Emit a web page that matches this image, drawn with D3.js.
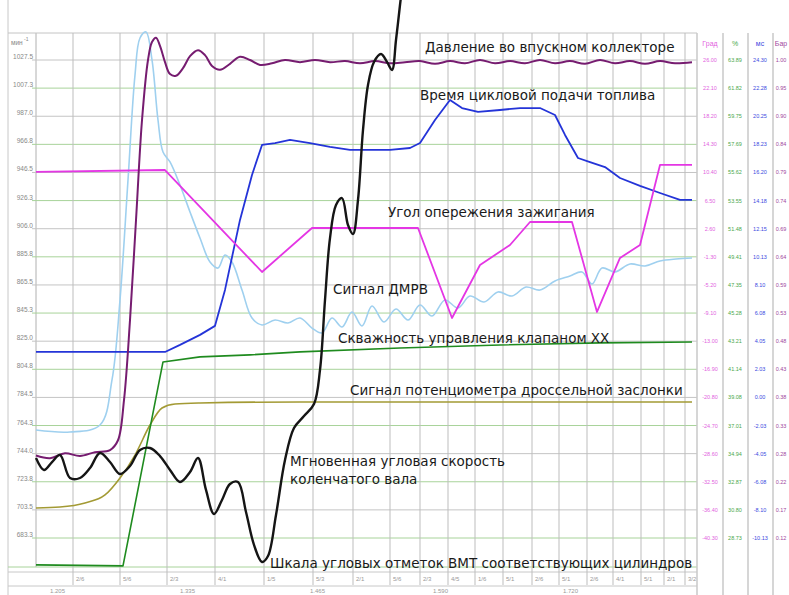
<!DOCTYPE html>
<html>
<head>
<meta charset="utf-8">
<script src="https://cdn.jsdelivr.net/npm/d3@7"></script>
<style>
body { margin: 0; background: #fff; }
</style>
</head>
<body>
<div id="chart"></div>
<script>

// Axis labels (left: мин-1, right: Град, %, мс, Бар)
var rpmTicks = [1027.5, 1007.3, 987.0, 966.8, 946.5, 926.3, 906.0, 885.8, 865.5, 845.3, 825.0, 804.8, 784.5, 764.3, 744.0, 723.8, 703.5, 683.3];
var gradTicks = [26.00, 22.10, 18.20, 14.30, 10.40, 6.50, 2.60, -1.30, -5.20, -9.10, -13.00, -16.90, -20.80, -24.70, -28.60, -32.50, -36.40, -40.30];
var pctTicks = [63.89, 61.82, 59.75, 57.69, 55.62, 53.55, 51.48, 49.41, 47.35, 45.28, 43.21, 41.14, 39.08, 37.01, 34.94, 32.87, 30.80, 28.73];
var msTicks = [24.30, 22.28, 20.25, 18.23, 16.20, 14.18, 12.15, 10.13, 8.10, 6.08, 4.05, 2.03, 0.00, -2.03, -4.05, -6.08, -8.10, -10.13];
var barTicks = [1.00, 0.95, 0.90, 0.84, 0.79, 0.74, 0.69, 0.64, 0.59, 0.53, 0.48, 0.43, 0.38, 0.33, 0.28, 0.22, 0.17, 0.12];

// TDC marks (time, ms) and their cylinder labels
var tdcTimes = [74, 168, 262, 358, 456, 554, 634, 708, 768, 824, 878, 934, 992, 1046, 1102, 1154, 1210, 1256, 1298];
var tdcLabels = ["2/6", "5/6", "2/3", "4/1", "1/5", "5/3", "2/1", "5/6", "2/3", "4/5", "1/6", "5/1", "2/6", "5/1", "2/6", "4/1", "5/1", "2/1", "3/2"];
var timeLabelTimes = [28, 288, 548, 794, 1054];
var timeLabels = ["1.205", "1.335", "1.465", "1.590", "1.720"];

// Series: [time ms, value]
var pressure = [ // Бар
	[0, 0.272], [28, 0.267], [58, 0.276], [88, 0.271], [118, 0.278], [148, 0.282], [164, 0.300],
	[176, 0.374], [188, 0.521], [200, 0.705], [212, 0.889], [224, 1.000], [232, 1.033], [240, 1.041],
	[248, 1.026], [258, 0.996], [268, 0.974], [280, 0.971], [294, 0.985], [308, 1.007], [324, 1.018],
	[338, 1.009], [352, 0.989], [368, 0.982], [388, 0.993], [408, 1.006], [428, 1.000], [448, 0.991],
	[472, 0.994], [498, 1.000], [528, 0.996], [558, 1.000], [588, 0.996], [618, 0.998], [648, 0.994],
	[678, 0.998], [708, 0.994], [738, 0.996], [768, 0.998], [798, 0.993], [828, 0.998], [858, 0.994],
	[888, 1.000], [918, 0.994], [948, 0.998], [978, 0.994], [1008, 1.000], [1038, 0.994], [1068, 0.998],
	[1098, 0.993], [1128, 1.000], [1158, 0.994], [1188, 0.998], [1218, 0.993], [1248, 0.998], [1278, 0.994], [1312, 0.996]
];
var injection = [ // мс
	[0, 3.27], [258, 3.27], [288, 3.78], [328, 4.50], [358, 5.15], [378, 7.74], [408, 12.78], [432, 16.02],
	[452, 18.18], [478, 18.32], [508, 18.54], [548, 18.32], [588, 18.04], [628, 17.82], [668, 17.82],
	[708, 17.82], [748, 17.96], [768, 18.32], [798, 19.98], [828, 21.42], [852, 20.84], [884, 20.56],
	[928, 20.70], [968, 20.84], [1008, 20.84], [1038, 20.34], [1058, 18.90], [1084, 17.24], [1108, 16.95],
	[1138, 16.59], [1168, 15.80], [1208, 15.23], [1248, 14.72], [1288, 14.22], [1312, 14.22]
];
var ignition = [ // Град
	[0, 10.47], [258, 10.74], [452, -3.40], [552, 2.70], [764, 2.70], [832, -9.78], [888, -2.43],
	[948, 0.34], [988, 3.53], [1072, 3.53], [1122, -8.95], [1168, -1.46], [1208, 0.34], [1248, 11.44], [1312, 11.44]
];
var idleValve = [ // %
	[0, 26.75], [174, 26.68], [254, 41.68], [328, 42.05], [428, 42.20], [528, 42.42], [728, 42.71],
	[928, 42.93], [1128, 43.08], [1312, 43.15]
];
var throttle = [ // В
	[0, 0.543], [48, 0.552], [98, 0.590], [138, 0.665], [168, 0.824], [198, 1.039], [228, 1.320],
	[252, 1.479], [278, 1.517], [328, 1.526], [528, 1.536], [1312, 1.536]
];
var maf = [ // В
	[0, 1.273], [68, 1.255], [128, 1.320], [152, 1.742], [168, 2.491], [184, 3.614], [198, 4.597],
	[208, 4.944], [220, 5.000], [232, 4.738], [244, 4.176], [254, 3.876], [268, 3.783], [288, 3.567],
	[308, 3.315], [328, 3.071], [348, 2.846], [364, 2.790], [378, 2.912], [392, 2.846], [412, 2.584],
	[432, 2.322], [452, 2.257], [478, 2.303], [504, 2.275], [528, 2.322], [552, 2.228], [572, 2.182],
	[592, 2.322], [612, 2.238], [632, 2.378], [652, 2.247], [672, 2.434], [696, 2.285], [720, 2.406],
	[744, 2.303], [768, 2.444], [792, 2.341], [818, 2.491], [844, 2.416], [868, 2.528], [896, 2.472],
	[924, 2.566], [952, 2.528], [980, 2.612], [1008, 2.584], [1038, 2.669], [1068, 2.715], [1092, 2.753],
	[1112, 2.640], [1132, 2.790], [1158, 2.753], [1188, 2.828], [1218, 2.809], [1248, 2.856], [1280, 2.875], [1312, 2.884]
];
var crankSpeed = [ // мин-1
	[0, 740.9], [16, 732.3], [32, 738.0], [48, 743.1], [68, 726.5], [88, 726.5], [108, 733.7], [128, 744.5],
	[148, 738.0], [168, 729.4], [188, 735.1], [208, 746.7], [228, 748.1], [248, 742.3], [268, 732.3],
	[288, 723.6], [308, 730.8], [324, 740.9], [340, 717.9], [356, 700.6], [372, 710.7], [388, 722.2],
	[404, 723.6], [420, 702.0], [436, 678.3], [452, 666.0], [464, 670.3], [480, 699.9], [498, 739.5],
	[516, 762.5], [536, 771.1], [556, 779.8], [568, 804.3], [578, 854.7], [588, 899.3], [600, 923.1],
	[612, 928.1], [624, 908.7], [634, 902.2], [644, 926.7], [654, 977.1], [664, 1009.5], [676, 1026.1],
	[690, 1031.8], [702, 1026.1], [712, 1020.3], [720, 1041.9], [728, 1067.1], [734, 1085.1]
];

var W = 789, H = 595;
var plotLeft = 36, plotRight = 697, plotTop = 33, plotBottom = 567;
var row0 = 60, row17 = 538;

var svg = d3.select("#chart").append("svg")
	.attr("width", W)
	.attr("height", H)
	.style("font-family", "'Liberation Sans', Arial, sans-serif");

var x = d3.scaleLinear().domain([0, 1322]).range([plotLeft, plotRight]);
var rowY = d3.scaleLinear().domain([0, 17]).range([row0, row17]);
var yRpm = d3.scaleLinear().domain([rpmTicks[0], rpmTicks[17]]).range([row0, row17]);
var yGrad = d3.scaleLinear().domain([gradTicks[0], gradTicks[17]]).range([row0, row17]);
var yPct = d3.scaleLinear().domain([pctTicks[0], pctTicks[17]]).range([row0, row17]);
var yMs = d3.scaleLinear().domain([msTicks[0], msTicks[17]]).range([row0, row17]);
var yBar = d3.scaleLinear().domain([barTicks[0], barTicks[17]]).range([row0, row17]);
var yVolt = d3.scaleLinear().domain([0, 5]).range([plotBottom - 1, plotTop - 1]);

var rows = d3.range(18);

// Frame
svg.append("line").attr("x1", 8).attr("x2", 8).attr("y1", 0).attr("y2", H).style("stroke", "#c8c8c8");
svg.append("line").attr("x1", plotLeft).attr("x2", plotLeft).attr("y1", plotTop).attr("y2", plotBottom).style("stroke", "#b0b0b0");

// Horizontal grid
svg.selectAll(".hgrid")
	.data(rows)
	.enter()
	.append("line")
	.attr("class", "hgrid")
	.attr("x1", plotLeft - 4)
	.attr("x2", plotRight)
	.attr("y1", d => rowY(d))
	.attr("y2", d => rowY(d))
	.style("stroke", d => d % 2 == 0 ? "#c4c4c4" : "#a8d39a")
	.style("stroke-width", 1);

svg.append("line").attr("x1", 8).attr("x2", plotRight).attr("y1", plotTop).attr("y2", plotTop).style("stroke", "#c4c4c4");
svg.append("line").attr("x1", 8).attr("x2", plotRight).attr("y1", plotBottom).attr("y2", plotBottom).style("stroke", "#a8d39a");
svg.append("line").attr("x1", 8).attr("x2", plotRight).attr("y1", 572).attr("y2", 572).style("stroke", "#c8c8c8");
svg.append("line").attr("x1", 8).attr("x2", plotRight).attr("y1", 586).attr("y2", 586).style("stroke", "#c8c8c8");

// TDC marks (vertical grid)
svg.selectAll(".tdc")
	.data(tdcTimes)
	.enter()
	.append("line")
	.attr("class", "tdc")
	.attr("x1", d => x(d))
	.attr("x2", d => x(d))
	.attr("y1", plotTop)
	.attr("y2", 585)
	.style("stroke", "#bdbdbd")
	.style("stroke-width", 1);

svg.selectAll(".tdc-label")
	.data(tdcTimes)
	.enter()
	.append("text")
	.attr("class", "tdc-label")
	.attr("x", d => x(d) + 3)
	.attr("y", 581)
	.style("font-size", "6px")
	.style("fill", "#999")
	.text((d, i) => tdcLabels[i]);

svg.selectAll(".time-label")
	.data(timeLabelTimes)
	.enter()
	.append("text")
	.attr("class", "time-label")
	.attr("x", d => x(d))
	.attr("y", 593)
	.style("font-size", "6px")
	.style("fill", "#999")
	.text((d, i) => timeLabels[i]);

// Left axis labels
svg.selectAll(".rpm-label")
	.data(rows)
	.enter()
	.append("text")
	.attr("class", "rpm-label")
	.attr("x", plotLeft - 3)
	.attr("y", d => rowY(d) - 1)
	.attr("text-anchor", "end")
	.style("font-size", "6.5px")
	.style("fill", "#888")
	.text(d => rpmTicks[d].toFixed(1));

svg.append("text").attr("x", 11).attr("y", 45).style("font-size", "6.5px").style("fill", "#888").text("мин");
svg.append("text").attr("x", 24).attr("y", 41).style("font-size", "5px").style("fill", "#888").text("-1");

// Right columns
var colLines = [697, 723, 748, 773];
svg.selectAll(".col-line")
	.data(colLines)
	.enter()
	.append("line")
	.attr("class", "col-line")
	.attr("x1", d => d)
	.attr("x2", d => d)
	.attr("y1", plotTop)
	.attr("y2", H)
	.style("stroke", "#c8c8c8")
	.style("stroke-width", 1.5);

var columns = [
	{title: "Град", ticks: gradTicks, color: "#e25fe0", cx: 710},
	{title: "%", ticks: pctTicks, color: "#4aa84a", cx: 735},
	{title: "мс", ticks: msTicks, color: "#3b49e0", cx: 760},
	{title: "Бар", ticks: barTicks, color: "#a0479e", cx: 781}
];

columns.forEach(c => {
	svg.append("text")
		.attr("x", c.cx)
		.attr("y", 46)
		.attr("text-anchor", "middle")
		.style("font-size", "7px")
		.style("fill", c.color)
		.text(c.title);
	svg.selectAll(null)
		.data(rows)
		.enter()
		.append("text")
		.attr("x", c.cx)
		.attr("y", d => rowY(d) + 2)
		.attr("text-anchor", "middle")
		.style("font-size", "5.5px")
		.style("fill", c.color)
		.text(d => c.ticks[d].toFixed(2));
});

// Series
var drawLine = (data, yScale, color, width, curve) => {
	var line = d3.line()
		.x(d => x(d[0]))
		.y(d => yScale(d[1]))
		.curve(curve || d3.curveLinear);
	svg.append("path")
		.datum(data)
		.attr("d", line)
		.style("fill", "none")
		.style("stroke", color)
		.style("stroke-width", width)
		.style("stroke-linejoin", "round");
};

drawLine(throttle, yVolt, "#a39a34", 1.6, d3.curveMonotoneX);
drawLine(idleValve, yPct, "#1f8b1f", 1.6);
drawLine(maf, yVolt, "#9fd0ef", 1.6, d3.curveCatmullRom);
drawLine(injection, yMs, "#2434d8", 1.8);
drawLine(ignition, yGrad, "#e436e4", 1.8);
drawLine(pressure, yBar, "#761c70", 2, d3.curveCatmullRom);
drawLine(crankSpeed, yRpm, "#151515", 2.4, d3.curveCatmullRom);

// Annotations
var notes = [
	{text: "Давление во впускном коллекторе", t: 778, v: 1.0147, y: yBar},
	{text: "Время цикловой подачи топлива", t: 768, v: 21.42, y: yMs},
	{text: "Угол опережения зажигания", t: 704, v: 4.23, y: yGrad},
	{text: "Сигнал ДМРВ", t: 594, v: 2.55, y: yVolt},
	{text: "Скважность управления клапаном ХХ", t: 604, v: 43.08, y: yPct},
	{text: "Сигнал потенциометра дроссельной заслонки", t: 628, v: 1.601, y: yVolt},
	{text: "Мгновенная угловая скорость", t: 508, v: 735, y: yRpm},
	{text: "коленчатого вала", t: 508, v: 722, y: yRpm},
	{text: "Шкала угловых отметок ВМТ соответствующих цилиндров", t: 468, v: -0.02, y: yVolt}
];

svg.selectAll(".note")
	.data(notes)
	.enter()
	.append("text")
	.attr("class", "note")
	.attr("x", d => x(d.t))
	.attr("y", d => d.y(d.v))
	.style("font-family", "'DejaVu Sans', Verdana, sans-serif")
	.style("font-size", "13.5px")
	.style("fill", "#1a1a1a")
	.text(d => d.text);

</script>
</body>
</html>
